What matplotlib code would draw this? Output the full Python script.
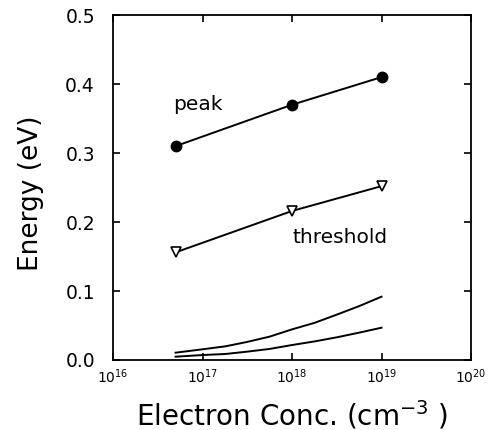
import matplotlib
matplotlib.use("Agg")
import matplotlib.pyplot as plt

# data
conc_pts = [5e16, 1e18, 1e19]
peak = [0.31, 0.37, 0.41]
threshold = [0.156, 0.216, 0.252]

conc_curve = [5e16, 1e17, 1.8e17, 3.1e17, 5.6e17, 1e18, 1.8e18, 3.2e18, 5.6e18, 1e19]
upper_curve = [0.0106, 0.0155, 0.0198, 0.026, 0.0338, 0.0444, 0.054, 0.066, 0.078, 0.0918]
lower_curve = [0.0048, 0.0072, 0.0087, 0.012, 0.016, 0.0217, 0.027, 0.033, 0.0396, 0.0468]

x_ticks = [1e16, 1e17, 1e18, 1e19, 1e20]
x_ticklabels = [r"$10^{16}$", r"$10^{17}$", r"$10^{18}$", r"$10^{19}$", r"$10^{20}$"]
y_ticks = [0.0, 0.1, 0.2, 0.3, 0.4, 0.5]

plt.rcParams["font.family"] = "DejaVu Sans"
plt.rcParams["mathtext.fontset"] = "dejavusans"

fig = plt.figure(figsize=(4.88, 4.30), dpi=100)
ax = fig.add_axes([0.2316, 0.1628, 0.7336, 0.8022])

ax.plot(conc_pts, peak, color="black", lw=1.4, marker="o", ms=7.5)
ax.plot(conc_pts, threshold, color="black", lw=1.4, marker="v", ms=7,
        mfc="white", mec="black", mew=1.2)
ax.plot(conc_curve, upper_curve, color="black", lw=1.4)
ax.plot(conc_curve, lower_curve, color="black", lw=1.4)

ax.text(4.7e16, 0.362, "peak", fontsize=14.5)
ax.text(1.0e18, 0.170, "threshold", fontsize=14.5)

ax.set_xscale("log")
ax.set_xlim(1e16, 1e20)
ax.set_ylim(0, 0.5)
ax.set_xticks(x_ticks)
ax.set_xticklabels(x_ticklabels, fontsize=10)
ax.set_yticks(y_ticks)
ax.set_yticklabels([f"{v:.1f}" for v in y_ticks], fontsize=13.5)
ax.minorticks_off()
ax.tick_params(direction="in", top=True, right=True, length=5, width=1.2)
ax.tick_params(axis="y", pad=13)
ax.tick_params(axis="x", pad=5)
for s in ax.spines.values():
    s.set_linewidth(1.3)

ax.set_xlabel(r"Electron Conc. (cm$^{-3}$ )", fontsize=20, va="center")
ax.xaxis.set_label_coords(0.5, -0.159)
ax.set_ylabel("Energy (eV)", fontsize=19, va="center")
ax.yaxis.set_label_coords(-0.229, 0.484)

fig.savefig("out.png", dpi=100)
